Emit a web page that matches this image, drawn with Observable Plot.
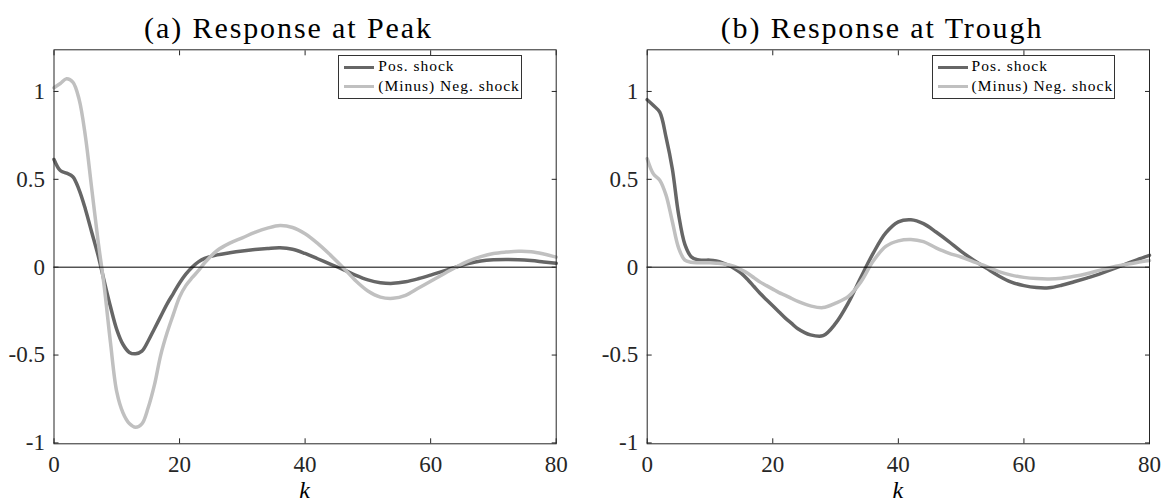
<!DOCTYPE html>
<html>
<head>
<meta charset="utf-8">
<script src="https://cdn.jsdelivr.net/npm/d3@7"></script>
<script src="https://cdn.jsdelivr.net/npm/@observablehq/plot@0.6"></script>
<style>
  html, body { margin: 0; padding: 0; background: #fff; }
  #root { position: relative; width: 1162px; height: 504px; overflow: hidden; background: #fff;
          font-family: "Liberation Serif", "Times New Roman", serif; color: #262626; }
  .plotbox { position: absolute; top: 0; }
  .title { position: absolute; top: 12.5px; width: 500px; text-align: center; font-size: 30px;
           line-height: 30px; letter-spacing: 1.9px; white-space: nowrap; color: #000; }
  .xlabel { position: absolute; top: 477px; width: 100px; text-align: center; font-style: italic;
            font-size: 24px; line-height: 27px; color: #000; }
  .legend { position: absolute; top: 55.3px; width: 183.4px; height: 44px; box-sizing: border-box;
            border: 1px solid #333; background: #fff; }
  .legend .swatch { position: absolute; left: 5px; width: 30px; height: 3.5px; }
  .legend .lab { position: absolute; left: 39px; font-size: 15.5px; line-height: 16px;
                 letter-spacing: 1px; white-space: nowrap; color: #000; }
</style>
</head>
<body>
<div id="root"></div>
<script>
// ---------------- data ----------------
const K = [0,1,2,3,4,5,6,7,8,9,10,11,12,13,14,15,16,17,18,19,20,21,22,23,24,
           26,28,30,32,34,36,38,40,42,44,46,48,50,52,54,56,58,60,62,64,66,68,70,72,74,76,78,80];

// (a) Response at Peak
const peakPos = [0.613,0.55,0.535,0.515,0.44,0.33,0.2,0.07,-0.08,-0.225,-0.355,-0.44,-0.485,-0.493,-0.478,-0.42,-0.35,-0.28,-0.21,-0.15,-0.09,-0.04,0.0,0.03,0.05,
                 0.07,0.082,0.092,0.1,0.106,0.11,0.102,0.078,0.048,0.018,-0.012,-0.045,-0.072,-0.088,-0.092,-0.083,-0.066,-0.045,-0.022,0.0,0.02,0.035,0.042,0.044,0.043,0.038,0.03,0.022];
const peakNeg = [1.021,1.045,1.072,1.053,0.955,0.745,0.45,0.155,-0.11,-0.43,-0.71,-0.83,-0.89,-0.911,-0.892,-0.8,-0.67,-0.5,-0.375,-0.27,-0.17,-0.105,-0.06,-0.02,0.025,
                 0.095,0.137,0.167,0.198,0.222,0.237,0.226,0.19,0.135,0.07,0.0,-0.075,-0.135,-0.17,-0.177,-0.16,-0.12,-0.08,-0.04,0.0,0.035,0.06,0.078,0.086,0.09,0.088,0.075,0.057];

// (b) Response at Trough
const troughPos = [0.953,0.92,0.882,0.74,0.56,0.3,0.13,0.06,0.042,0.04,0.04,0.035,0.025,0.01,-0.01,-0.035,-0.07,-0.11,-0.15,-0.185,-0.22,-0.255,-0.29,-0.32,-0.35,
                   -0.385,-0.39,-0.32,-0.205,-0.06,0.08,0.195,0.258,0.27,0.248,0.2,0.147,0.09,0.04,-0.005,-0.05,-0.085,-0.105,-0.116,-0.117,-0.103,-0.083,-0.062,-0.04,-0.012,0.015,0.042,0.067];
const troughNeg = [0.617,0.53,0.495,0.41,0.26,0.11,0.04,0.028,0.025,0.025,0.025,0.023,0.02,0.013,0.003,-0.015,-0.035,-0.06,-0.085,-0.105,-0.125,-0.145,-0.16,-0.178,-0.195,
                   -0.22,-0.23,-0.205,-0.168,-0.085,0.035,0.118,0.15,0.158,0.145,0.11,0.08,0.058,0.03,0.005,-0.025,-0.045,-0.058,-0.065,-0.067,-0.063,-0.052,-0.037,-0.018,0.0,0.014,0.027,0.038];

const xTicks = [0, 20, 40, 60, 80];
const xTickLabels = ["0", "20", "40", "60", "80"];
const yTicks = [-1, -0.5, 0, 0.5, 1];
const yTickLabels = ["-1", "-0.5", "0", "0.5", "1"];
const titles = ["(a) Response at Peak", "(b) Response at Trough"];
const legendLabels = ["Pos. shock", "(Minus) Neg. shock"];
const xLabel = "k";
const colors = ["#666666", "#c0c0c0"];

// ---------------- drawing ----------------
const root = document.getElementById("root");
const axisColor = "#262626";

function rows(arr) { return K.map((k, i) => ({k, v: arr[i]})); }

function makePanel(cfg) {
  const {left, width, mL, mR, pos, neg, title, titleCenter} = cfg;
  const svg = Plot.plot({
    width, height: 504,
    marginLeft: mL, marginRight: mR, marginTop: 49.3, marginBottom: 60.7,
    x: {domain: [0, 80], label: null},
    y: {domain: [-1.005, 1.237], label: null},
    style: {fontFamily: "'Liberation Serif', 'Times New Roman', serif", fontSize: "23px",
            color: axisColor, background: "transparent", overflow: "visible"},
    marks: [
      Plot.line(rows(pos), {x: "k", y: "v", stroke: colors[0], strokeWidth: 3.5, curve: "catmull-rom"}),
      Plot.line(rows(neg), {x: "k", y: "v", stroke: colors[1], strokeWidth: 3.5, curve: "catmull-rom"}),
      Plot.ruleY([0], {stroke: "#000", strokeWidth: 1}),
      Plot.frame({stroke: axisColor, strokeWidth: 1}),
      // inward ticks on all four sides
      Plot.axisX({anchor: "bottom", ticks: xTicks, tickSize: 5, dy: -5, text: null, label: null, stroke: axisColor}),
      Plot.axisX({anchor: "top", ticks: xTicks, tickSize: 5, dy: 5, text: null, label: null, stroke: axisColor}),
      Plot.axisY({anchor: "left", ticks: yTicks, tickSize: 5, dx: 5, text: null, label: null, stroke: axisColor}),
      Plot.axisY({anchor: "right", ticks: yTicks, tickSize: 5, dx: -5, text: null, label: null, stroke: axisColor}),
      // tick labels
      Plot.axisX({anchor: "bottom", ticks: xTicks, tickSize: 0, tickPadding: 11.4, label: null,
                  tickFormat: d => xTickLabels[xTicks.indexOf(d)]}),
      Plot.axisY({anchor: "left", ticks: yTicks, tickSize: 0, tickPadding: 9, label: null,
                  tickFormat: d => yTickLabels[yTicks.indexOf(d)]})
    ]
  });
  const box = document.createElement("div");
  box.className = "plotbox";
  box.style.left = left + "px";
  box.appendChild(svg);
  root.appendChild(box);

  const t = document.createElement("div");
  t.className = "title";
  t.textContent = title;
  t.style.left = (titleCenter - 250) + "px";
  root.appendChild(t);

  const frameL = left + mL, frameR = left + width - mR;
  const xl = document.createElement("div");
  xl.className = "xlabel";
  xl.textContent = xLabel;
  xl.style.left = ((frameL + frameR) / 2 - 50) + "px";
  root.appendChild(xl);

  const lg = document.createElement("div");
  lg.className = "legend";
  lg.style.left = (frameR - 217.4) + "px";
  const rowsY = [{sw: 9.3, tx: 2.2}, {sw: 28.7, tx: 22.2}];
  legendLabels.forEach((lab, i) => {
    const sw = document.createElement("div");
    sw.className = "swatch";
    sw.style.top = rowsY[i].sw + "px";
    sw.style.background = colors[i];
    lg.appendChild(sw);
    const tx = document.createElement("span");
    tx.className = "lab";
    tx.style.top = rowsY[i].tx + "px";
    tx.textContent = lab;
    lg.appendChild(tx);
  });
  root.appendChild(lg);
}

makePanel({left: 0, width: 580, mL: 53.5, mR: 24.3, pos: peakPos, neg: peakNeg, title: titles[0], titleCenter: 288.5});
makePanel({left: 580, width: 582, mL: 66.7, mR: 13, pos: troughPos, neg: troughNeg, title: titles[1], titleCenter: 882});
</script>
</body>
</html>
